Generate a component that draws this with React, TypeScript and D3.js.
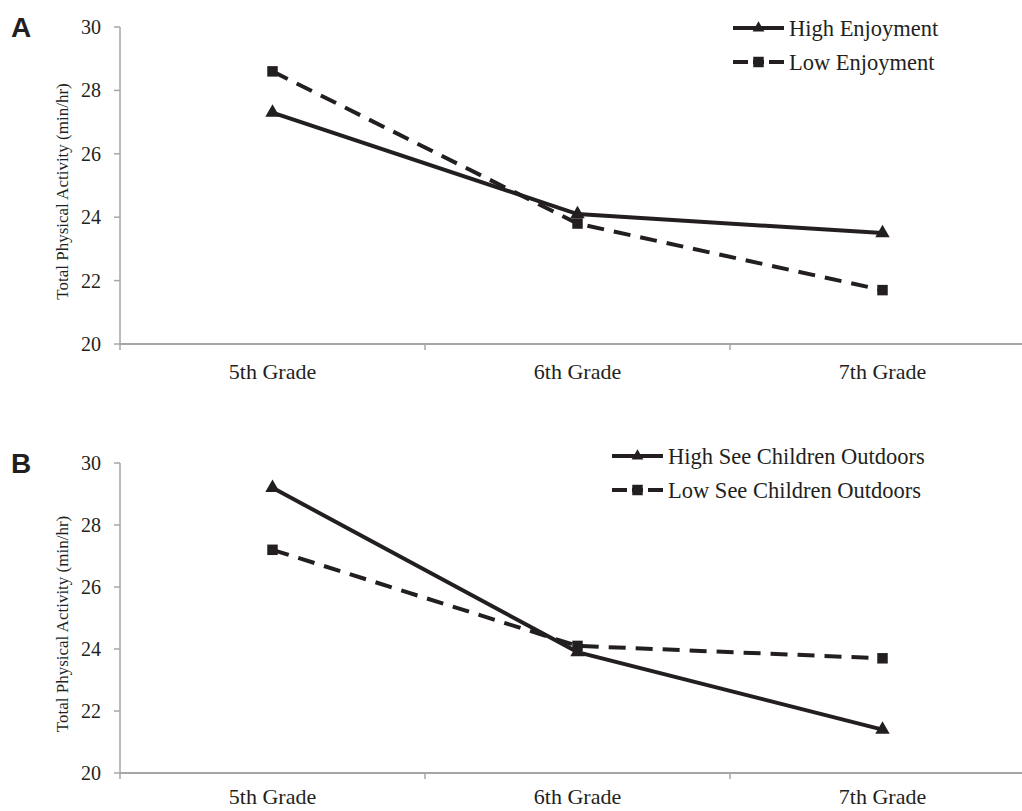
import { useEffect, useRef } from 'react'
import * as d3 from 'd3'

const grades = ['5th Grade', '6th Grade', '7th Grade']
const yTicks = [20, 22, 24, 26, 28, 30]

const highEnjoyment = [27.3, 24.1, 23.5]
const lowEnjoyment = [28.6, 23.8, 21.7]
const highSeeChildren = [29.2, 23.9, 21.4]
const lowSeeChildren = [27.2, 24.1, 23.7]

const panels = [
  {
    letter: 'A',
    top: 27,
    bottom: 344,
    labelGap: 35,
    series: [
      { name: 'High Enjoyment', values: highEnjoyment, dashed: false },
      { name: 'Low Enjoyment', values: lowEnjoyment, dashed: true }
    ],
    legendX: 733,
    legendY: 28
  },
  {
    letter: 'B',
    top: 463,
    bottom: 773,
    labelGap: 31,
    series: [
      { name: 'High See Children Outdoors', values: highSeeChildren, dashed: false },
      { name: 'Low See Children Outdoors', values: lowSeeChildren, dashed: true }
    ],
    legendX: 612,
    legendY: 456
  }
]

export default function App() {
  const svgRef = useRef<SVGSVGElement>(null)

  useEffect(() => {
    if (!svgRef.current) return
    const svg = d3.select(svgRef.current)
    svg.selectAll('*').remove()

    const width = 1022
    const height = 811
    svg.attr('width', width).attr('height', height)

    const ink = '#231f20'
    const axisColor = '#a6a6a6'
    const serif = '"Liberation Serif", "Times New Roman", serif'

    const x = d3.scaleBand().domain(grades).range([120, 1035])

    panels.forEach(p => {
      const y = d3.scaleLinear().domain([20, 30]).range([p.bottom, p.top])
      const g = svg.append('g')

      // panel letter
      g.append('text')
        .attr('x', 11)
        .attr('y', p.top + 10)
        .style('font-family', '"Liberation Sans", Arial, sans-serif')
        .style('font-weight', 'bold')
        .style('font-size', '28px')
        .style('fill', ink)
        .text(p.letter)

      // y axis
      g.append('line')
        .attr('x1', 120).attr('x2', 120)
        .attr('y1', p.top).attr('y2', p.bottom)
        .style('stroke', axisColor).style('stroke-width', 1.5)

      yTicks.forEach(t => {
        g.append('line')
          .attr('x1', 114).attr('x2', 120)
          .attr('y1', y(t)).attr('y2', y(t))
          .style('stroke', axisColor).style('stroke-width', 1.5)
        g.append('text')
          .attr('x', 101)
          .attr('y', y(t))
          .attr('dy', '0.35em')
          .attr('text-anchor', 'end')
          .style('font-family', serif)
          .style('font-size', '20px')
          .style('fill', ink)
          .text(t)
      })

      // x axis
      g.append('line')
        .attr('x1', 120).attr('x2', width)
        .attr('y1', p.bottom).attr('y2', p.bottom)
        .style('stroke', axisColor).style('stroke-width', 2)

      grades.forEach(c => {
        const x0 = x(c) as number
        g.append('line')
          .attr('x1', x0).attr('x2', x0)
          .attr('y1', p.bottom).attr('y2', p.bottom + 6)
          .style('stroke', axisColor).style('stroke-width', 1.5)
        g.append('text')
          .attr('x', x0 + x.bandwidth() / 2)
          .attr('y', p.bottom + p.labelGap)
          .attr('text-anchor', 'middle')
          .style('font-family', serif)
          .style('font-size', '22px')
          .style('fill', ink)
          .text(c)
      })

      // y axis title
      g.append('text')
        .attr('transform', `translate(68, ${(p.top + p.bottom) / 2 + 6}) rotate(-90)`)
        .attr('text-anchor', 'middle')
        .style('font-family', serif)
        .style('font-size', '17px')
        .style('fill', ink)
        .text('Total Physical Activity (min/hr)')

      const line = d3.line<number>()
        .x((d, i) => (x(grades[i]) as number) + x.bandwidth() / 2)
        .y(d => y(d))

      const tri = d3.symbol().type(d3.symbolTriangle).size(90)
      const sq = d3.symbol().type(d3.symbolSquare).size(110)
      const triSmall = d3.symbol().type(d3.symbolTriangle).size(60)
      const sqSmall = d3.symbol().type(d3.symbolSquare).size(110)

      // draw dashed first so solid sits on top
      const order = [...p.series].sort((a, b) => Number(b.dashed) - Number(a.dashed))
      order.forEach(s => {
        g.append('path')
          .attr('d', line(s.values))
          .style('fill', 'none')
          .style('stroke', ink)
          .style('stroke-width', 4)
          .style('stroke-dasharray', s.dashed ? '17 10' : null)

        g.selectAll(null)
          .data(s.values)
          .enter().append('path')
          .attr('d', s.dashed ? sq() : tri())
          .attr('transform', (d, i) => `translate(${(x(grades[i]) as number) + x.bandwidth() / 2}, ${y(d)})`)
          .style('fill', ink)
      })

      // legend
      p.series.forEach((s, i) => {
        const ly = p.legendY + i * 34
        g.append('line')
          .attr('x1', p.legendX).attr('x2', p.legendX + 51)
          .attr('y1', ly).attr('y2', ly)
          .style('stroke', ink)
          .style('stroke-width', 4)
          .style('stroke-dasharray', s.dashed ? '15 5 11 5 15' : null)
        g.append('path')
          .attr('d', s.dashed ? sqSmall() : triSmall())
          .attr('transform', `translate(${p.legendX + 25.5}, ${ly})`)
          .style('fill', ink)
        g.append('text')
          .attr('x', p.legendX + 56)
          .attr('y', ly)
          .attr('dy', '0.35em')
          .style('font-family', serif)
          .style('font-size', '22.5px')
          .style('fill', ink)
          .text(s.name)
      })
    })
  }, [])

  return (
    <div style={{ position: 'absolute', left: 0, top: 0, background: '#fff' }}>
      <svg ref={svgRef} style={{ display: 'block' }}></svg>
    </div>
  )
}
